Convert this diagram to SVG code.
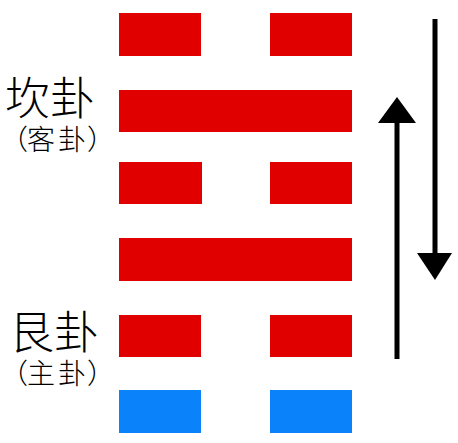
<svg xmlns="http://www.w3.org/2000/svg" width="458" height="443" viewBox="0 0 458 443">
<style>
.yang{fill:#E10000}
.yin{fill:#0A82FA}
.big{font-family:"Noto Sans CJK SC","Noto Sans CJK JP",sans-serif;font-size:45px;font-weight:300;fill:#000}
.small{font-family:"Noto Sans CJK SC","Noto Sans CJK JP",sans-serif;font-size:28px;font-weight:300;fill:#000}
.shaft{stroke:#000;stroke-width:5;fill:none}
.head{fill:#000}
</style>
<rect width="458" height="443" fill="#fff"/>
<g id="line6"><rect class="yang" x="119" y="13" width="82" height="43"/><rect class="yang" x="270" y="13" width="82" height="43"/></g>
<g id="line5"><rect class="yang" x="119" y="90" width="233" height="42"/></g>
<g id="line4"><rect class="yang" x="119" y="162" width="83" height="42"/><rect class="yang" x="270" y="162" width="82" height="42"/></g>
<g id="line3"><rect class="yang" x="119" y="238" width="233" height="43"/></g>
<g id="line2"><rect class="yang" x="119" y="315" width="82" height="42"/><rect class="yang" x="270" y="315" width="82" height="42"/></g>
<g id="line1"><rect class="yin" x="119" y="390" width="82" height="43"/><rect class="yin" x="270" y="390" width="82" height="43"/></g>
<g id="label-kan"><text class="big" x="5" y="115">坎卦</text><text class="small" x="0 27 58 87" y="150">（客卦）</text></g>
<g id="label-gen"><text class="big" x="9" y="349">艮卦</text><text class="small" x="0 27 58 87" y="384">（主卦）</text></g>
<g id="connectors">
<line class="shaft" x1="435" y1="19" x2="435" y2="256"/>
<polygon class="head" points="417,253 452,253 435,280"/>
<line class="shaft" x1="397" y1="120" x2="397" y2="359"/>
<polygon class="head" points="378,123 416,123 397,97"/>
</g>
</svg>
